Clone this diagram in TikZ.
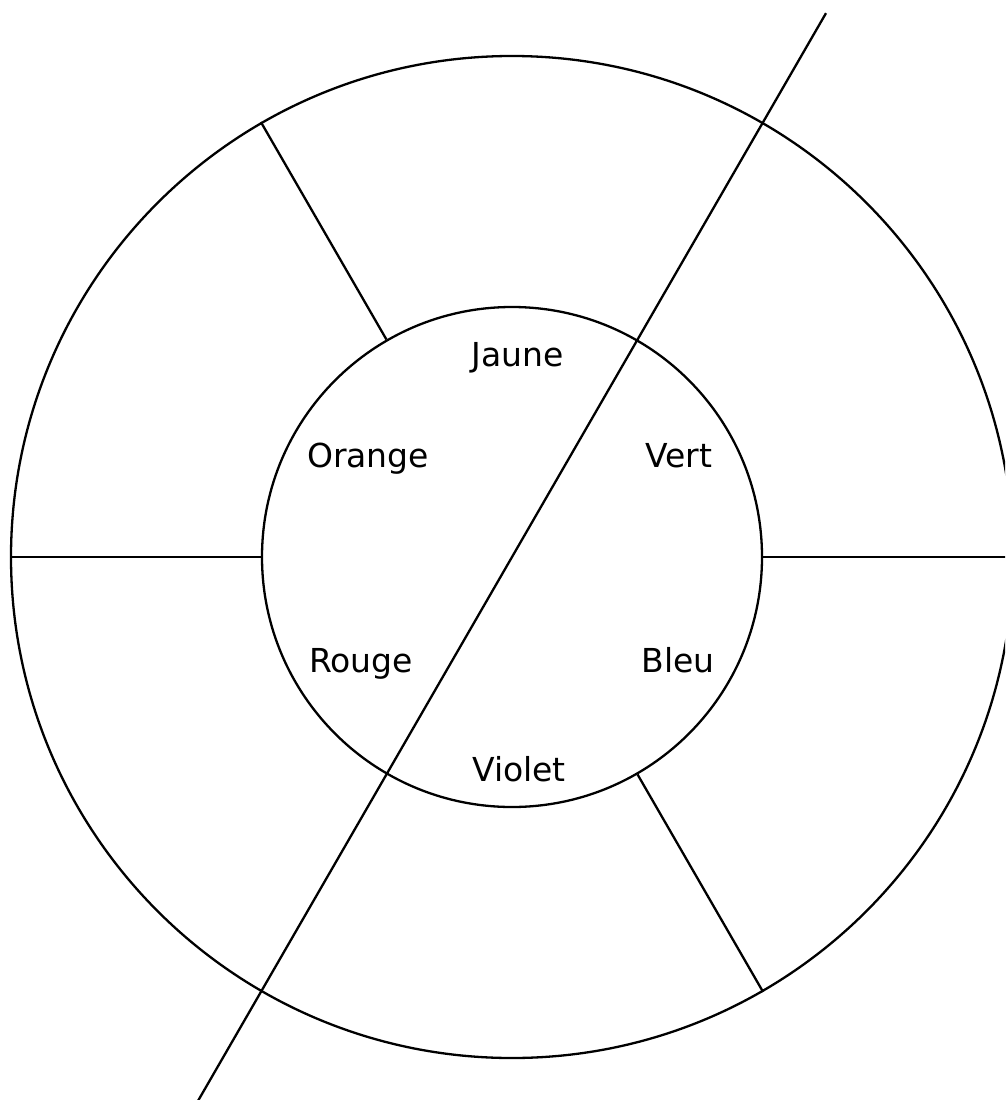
\documentclass[tikz,border=0pt]{standalone}
\usepackage{fontspec}
\usetikzlibrary{calc}
\newfontfamily\labfont{DejaVu Sans}
\begin{document}
\begin{tikzpicture}[x=1pt,y=-1pt,
  ring/.style={circle,draw,line width=2.3pt,inner sep=0pt},
  rule/.style={line width=2.3pt},
  lab/.style={font=\labfont\fontsize{33}{39}\selectfont,anchor=base,inner sep=0pt}]
\useasboundingbox (0,0) rectangle (1005,1100);
\clip (0,0) rectangle (1005,1100);
\coordinate (c) at (512,557);
\node[ring,minimum size=1002pt] (outer) at (c) {};
\node[ring,minimum size=500pt] (inner) at (c) {};
% spokes
\draw[rule] (inner.180) -- (outer.180);
\draw[rule] (inner.0) -- (outer.0);
\draw[rule] (inner.120) -- (outer.120);
\draw[rule] (inner.-60) -- (outer.-60);
% diagonal
\coordinate (dtop) at ($(c)+(60:628pt)$);
\coordinate (dbot) at ($(c)+(240:660pt)$);
\draw[rule] (dtop) -- (dbot);
% labels
\node[lab] (jaune) at (518,366) {Jaune};
\node[lab] (orange) at (368,467) {Orange};
\node[lab] (vert) at (679,467) {Vert};
\node[lab] (rouge) at (361,672) {Rouge};
\node[lab] (bleu) at (678,672) {Bleu};
\node[lab] (violet) at (519,781) {Violet};
\end{tikzpicture}
\end{document}
